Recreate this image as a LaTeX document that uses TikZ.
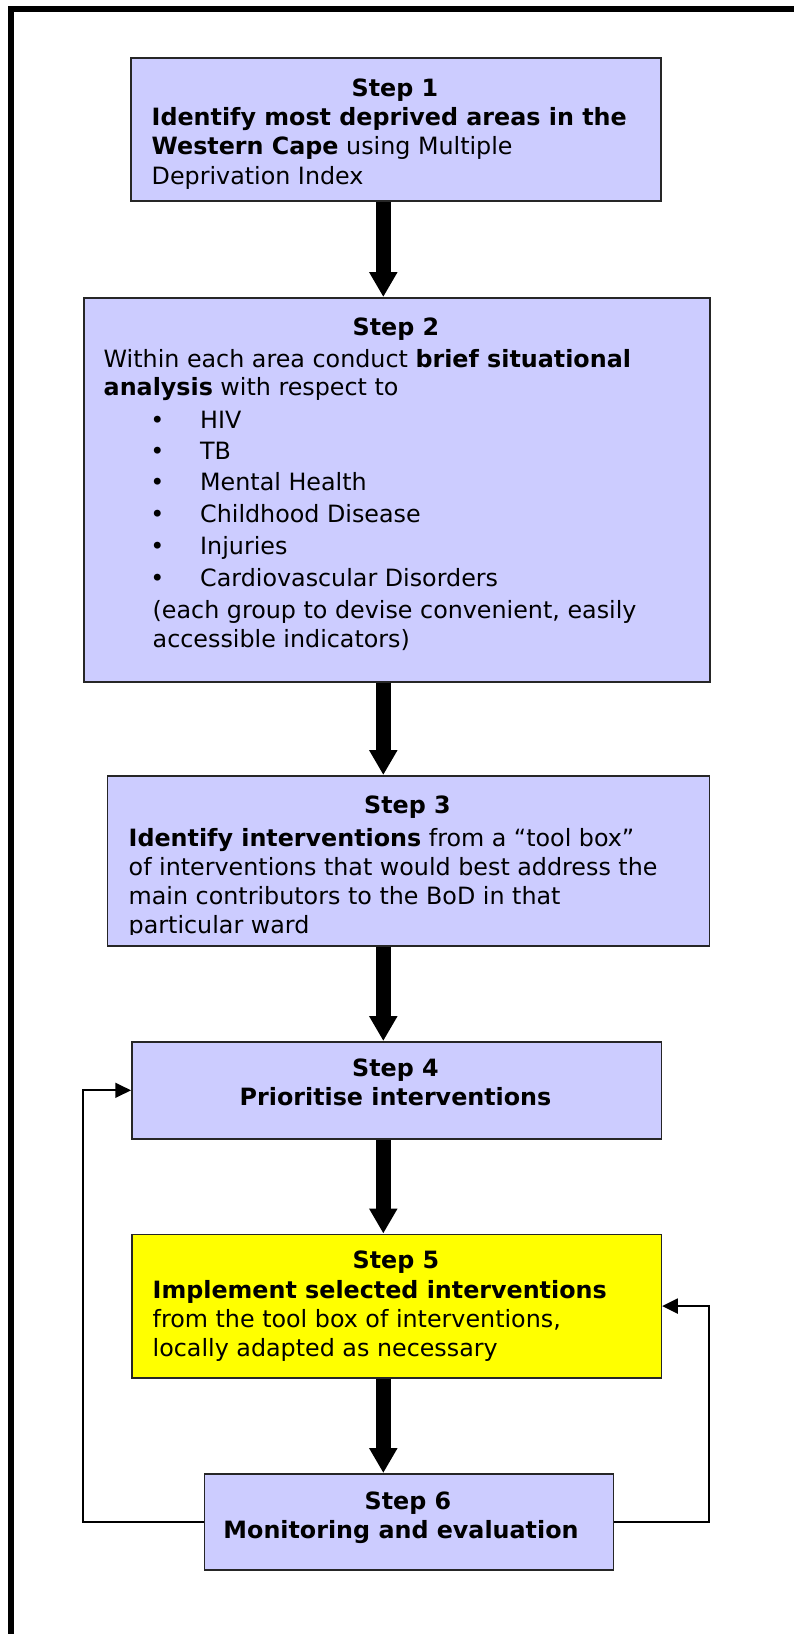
\documentclass[tikz,border=0pt]{standalone}
\usepackage{fontspec}
\setmainfont{DejaVu Sans}
\usetikzlibrary{arrows.meta}
\definecolor{lav}{HTML}{CCCCFF}
\definecolor{yel}{HTML}{FFFF00}
\begin{document}
\begin{tikzpicture}[x=1pt,y=-1pt,
  font=\fontsize{23.8}{29}\selectfont,
  box/.style={draw=black!85, line width=1.6pt, fill=lav, inner sep=0pt, anchor=north west},
  ybox/.style={box, fill=yel},
  bigarrow/.style={line width=14.5pt, -{Triangle[width=26.7pt,length=25pt]}},
  looparrow/.style={line width=1.7pt, -{Triangle[width=15pt,length=15.7pt]}},
  txt/.style={inner sep=0pt, anchor=base west},
  ctxt/.style={inner sep=0pt, anchor=base},
  bul/.style={inner sep=0pt, anchor=base}]
\useasboundingbox (0,0) rectangle (794,1634);
% outer frame (only left and top edges visible)
\draw[line width=6pt] (11,1634) -- (11,9) -- (794,9);

% boxes
\node[box, minimum width=530pt, minimum height=143pt] (s1) at (130,57) {};
\node[box, minimum width=626pt, minimum height=384pt] (s2) at (83,297) {};
\node[box, minimum width=602pt, minimum height=170pt] (s3) at (106.5,775) {};
\node[box, minimum width=529.5pt, minimum height=97pt] (s4) at (131,1041) {};
\node[ybox, minimum width=529.5pt, minimum height=143.5pt] (s5) at (131,1233.5) {};
\node[box, minimum width=409pt, minimum height=96pt] (s6) at (203.5,1473) {};

% connector guide coordinates
\coordinate (ax) at (383.3,0);
\coordinate (lx) at (83,0);
\coordinate (rx) at (709,0);

% main arrows
\draw[bigarrow] (s1.south -| ax) -- (s2.north -| ax);
\draw[bigarrow] (s2.south -| ax) -- (s3.north -| ax);
\draw[bigarrow] (s3.south -| ax) -- (s4.north -| ax);
\draw[bigarrow] (s4.south -| ax) -- (s5.north -| ax);
\draw[bigarrow] (s5.south -| ax) -- (s6.north -| ax);

% feedback loops
\draw[looparrow] (s6.west) -- (s6.west -| lx) |- (s4.west);
\draw[looparrow] (s6.east) -- (s6.east -| rx) |- (s5.east);

% Step 1 text
\node[ctxt] (t1a) at (395,96) {\bfseries Step 1};
\node[txt] (t1b) at (151.5,125.4) {\bfseries Identify most deprived areas in the};
\node[txt] (t1c) at (151.5,154.8) {\textbf{Western Cape} using Multiple};
\node[txt] (t1d) at (151.5,184.2) {Deprivation Index};

% Step 2 text
\node[ctxt] (t2a) at (396,335) {\bfseries Step 2};
\node[txt] (t2b) at (103.5,367) {Within each area conduct \textbf{brief situational}};
\node[txt] (t2c) at (103.5,395.5) {\textbf{analysis} with respect to};
\node[bul] (b1) at (157.5,428) {•};
\node[txt] (i1) at (200,428) {HIV};
\node[bul] (b2) at (157.5,459) {•};
\node[txt] (i2) at (200,459) {TB};
\node[bul] (b3) at (157.5,490.5) {•};
\node[txt] (i3) at (200,490.5) {Mental Health};
\node[bul] (b4) at (157.5,522) {•};
\node[txt] (i4) at (200,522) {Childhood Disease};
\node[bul] (b5) at (157.5,554) {•};
\node[txt] (i5) at (200,554) {Injuries};
\node[bul] (b6) at (157.5,586) {•};
\node[txt] (i6) at (200,586) {Cardiovascular Disorders};
\node[txt] (t2d) at (152.5,618.5) {(each group to devise convenient, easily};
\node[txt] (t2e) at (152.5,647) {accessible indicators)};

% Step 3 text
\node[ctxt] (t3a) at (407.5,813) {\bfseries Step 3};
\node[txt] (t3b) at (128.5,846) {\textbf{Identify interventions} from a “tool box”};
\node[txt] (t3c) at (128.5,875) {of interventions that would best address the};
\node[txt] (t3d) at (128.5,904) {main contributors to the BoD in that};
\begin{scope}
  \clip (106.5,775) rectangle (708.5,934.5);
  \node[txt] (t3e) at (128.5,933.3) {particular ward};
\end{scope}

% Step 4 text
\node[ctxt] (t4a) at (395.5,1076.5) {\bfseries Step 4};
\node[ctxt] (t4b) at (395.5,1105.5) {\bfseries Prioritise interventions};

% Step 5 text
\node[ctxt] (t5a) at (396,1268) {\bfseries Step 5};
\node[txt] (t5b) at (152.5,1298) {\bfseries Implement selected interventions};
\node[txt] (t5c) at (152.5,1327) {from the tool box of interventions,};
\node[txt] (t5d) at (152.5,1356) {locally adapted as necessary};

% Step 6 text
\node[ctxt] (t6a) at (408,1509) {\bfseries Step 6};
\node[ctxt] (t6b) at (401,1538) {\bfseries Monitoring and evaluation};
\end{tikzpicture}
\end{document}
